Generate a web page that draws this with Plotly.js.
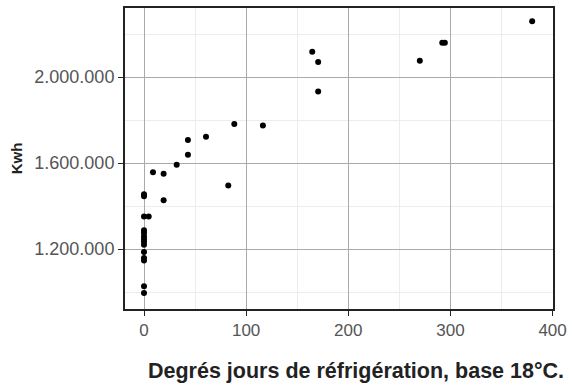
<!DOCTYPE html>
<html><head><meta charset="utf-8">
<script src="https://cdn.plot.ly/plotly-3.0.1.min.js"></script>
<style>html,body{margin:0;padding:0;background:#fff;}</style>
</head><body>
<div id="chart" style="width:572px;height:389px;"></div>
<script>
const degreeDays = [380, 292, 294.5, 270, 164.7, 170.5, 170.5, 88.4, 116.4, 60.7, 43, 43, 32, 8.8, 19.2, 82.5, 19.2,
  0, 0, 0, 4.6, 0, 0, 0, 0, 0, 0, 0, 0, 0, 0, 0];
const kwh = [2259600, 2159400, 2159400, 2076000, 2117700, 2069500, 1932300, 1781400, 1775000, 1722000, 1707000, 1638500, 1592000, 1557000, 1550000, 1495000, 1427000,
  1455000, 1445000, 1351000, 1351000, 1287000, 1274000, 1258000, 1246000, 1234000, 1220000, 1186000, 1158000, 1147000, 1027000, 996000];
const xTicks = [0, 100, 200, 300, 400];
const yTicks = [1200000, 1600000, 2000000];
const xTitle = 'Degrés jours de réfrigération, base 18°C.';
const yTitle = 'Kwh';

const trace = {x: degreeDays, y: kwh, type: 'scatter', mode: 'markers',
  marker: {color: '#000', size: 6}, hoverinfo: 'skip'};
const layout = {
  width: 572, height: 389,
  margin: {l: 125, r: 19, t: 8, b: 80},
  paper_bgcolor: '#fff', plot_bgcolor: '#fff',
  separators: ',.',
  font: {family: 'Liberation Sans, Arial, sans-serif', color: '#555'},
  showlegend: false,
  xaxis: {range: [-18.6, 400.4], tickvals: xTicks, ticks: 'outside', ticklen: 5, tickcolor: '#222',
    gridcolor: '#aaa', gridwidth: 1, zeroline: false, showline: true, mirror: true, linecolor: '#222', linewidth: 2,
    minor: {dtick: 50, tick0: 0, showgrid: true, gridcolor: '#ececec', gridwidth: 1, ticks: ''},
    tickfont: {size: 17, color: '#555'}},
  yaxis: {range: [921000, 2321000], tickvals: yTicks, tickformat: ',d', ticks: 'outside', ticklen: 5, tickcolor: '#222',
    gridcolor: '#aaa', gridwidth: 1, zeroline: false, showline: true, mirror: true, linecolor: '#222', linewidth: 2,
    minor: {dtick: 200000, tick0: 1000000, showgrid: true, gridcolor: '#ececec', gridwidth: 1, ticks: ''},
    tickfont: {size: 18, color: '#555'},
    title: {text: '<b>' + yTitle + '</b>', font: {size: 15, color: '#222'}, standoff: 8}},
  annotations: [{text: '<b>' + xTitle + '</b>', xref: 'paper', yref: 'paper', x: 0.54, y: 0,
    yshift: -62, yanchor: 'middle', xanchor: 'center', showarrow: false, font: {size: 21.5, color: '#222'}}]
};
Plotly.newPlot('chart', [trace], layout, {staticPlot: true, displayModeBar: false});
</script>
</body></html>
